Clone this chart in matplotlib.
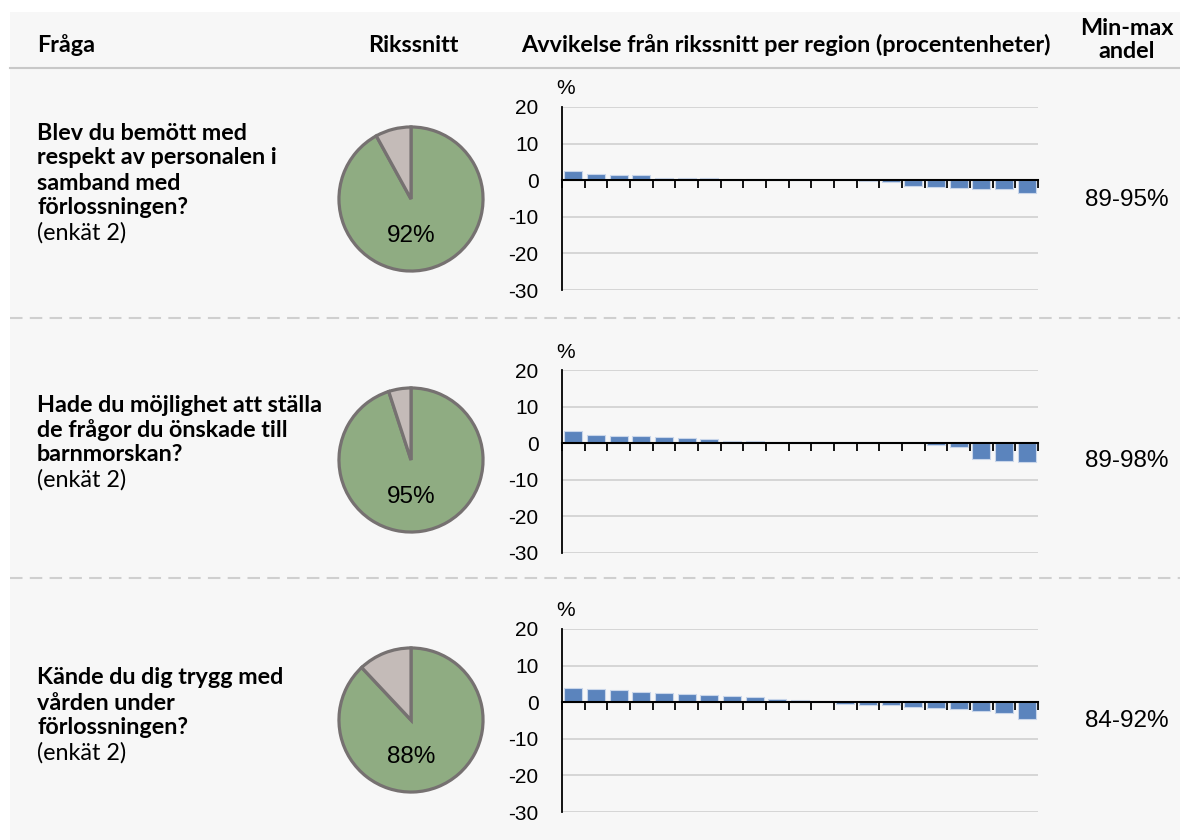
import matplotlib
matplotlib.use("Agg")
import matplotlib.pyplot as plt
from matplotlib.patches import Rectangle
from matplotlib.lines import Line2D

W, H = 1180, 840

questions = [
    "Blev du bemött med\nrespekt av personalen i\nsamband med\nförlossningen?",
    "Hade du möjlighet att ställa\nde frågor du önskade till\nbarnmorskan?",
    "Kände du dig trygg med\nvården under\nförlossningen?",
]
survey = ["(enkät 2)", "(enkät 2)", "(enkät 2)"]
national = [92, 95, 88]
minmax = ["89-95%", "89-98%", "84-92%"]

# deviation from national average per region, sorted
dev_q1 = [2.5, 1.6, 1.5, 1.4, 0.7, 0.7, 0.55, 0.45, 0.45, 0.3, 0.2,
          0.15, 0.0, -0.1, -0.4, -1.6, -1.9, -2.0, -2.3, -2.5, -3.5]
dev_q2 = [3.4, 2.3, 2.1, 2.0, 1.8, 1.3, 1.1, 0.7, 0.6, 0.45, 0.45,
          0.45, 0.45, 0.2, 0.0, 0.0, -0.5, -1.0, -4.4, -4.8, -5.1]
dev_q3 = [3.8, 3.5, 3.4, 2.7, 2.4, 2.3, 1.9, 1.7, 1.5, 0.9, 0.5,
          0.2, -0.4, -0.8, -0.9, -1.2, -1.7, -1.9, -2.4, -3.0, -4.7]
deviations = [dev_q1, dev_q2, dev_q3]
yticks = [20, 10, 0, -10, -20, -30]

headers = ["Fråga", "Rikssnitt",
           "Avvikelse från rikssnitt per region (procentenheter)",
           "Min-max\nandel"]

label_font = "Lato"
num_font = "Liberation Sans"
lsize = 16.8
bar_color = "#5B84BD"
green = "#8FAC82"
grey = "#C4BBB8"
pie_edge = "#767171"


def px(x0, y0, w, h):
    return [x0 / W, 1 - (y0 + h) / H, w / W, h / H]


fig = plt.figure(figsize=(W / 100, H / 100), dpi=100, facecolor="white")
fig.patches.append(Rectangle((10 / W, 0), 1, 1 - 12 / H, transform=fig.transFigure,
                             facecolor="#F7F7F7", edgecolor="none", zorder=-10))

# header
fig.text(37 / W, 1 - 45 / H, headers[0], family=label_font, weight="bold",
         fontsize=lsize, va="center", ha="left")
fig.text(413 / W, 1 - 45 / H, headers[1], family=label_font, weight="bold",
         fontsize=lsize, va="center", ha="center")
fig.text(786 / W, 1 - 45 / H, headers[2], family=label_font, weight="bold",
         fontsize=lsize, va="center", ha="center")
fig.text(1127 / W, 1 - 40 / H, headers[3], family=label_font, weight="bold",
         fontsize=lsize, va="center", ha="center", linespacing=1.1)
fig.lines.append(Line2D([10 / W, 1], [1 - 68 / H, 1 - 68 / H], transform=fig.transFigure,
                        color="#C8C8C8", lw=1.5))
for ysep in [318, 578]:
    fig.lines.append(Line2D([10 / W, 1], [1 - ysep / H, 1 - ysep / H], transform=fig.transFigure,
                            color="#CFCFCF", lw=1.5, ls=(0, (6, 3.5))))

pie_cy = [199, 460, 720]
bar_top = [107, 370, 629]
q_top = [133, 405, 678]

for i in range(3):
    # question text
    lines = questions[i].split("\n")
    for k, line in enumerate(lines):
        fig.text(37 / W, 1 - (q_top[i] + 25 * k) / H, line, family=label_font,
                 weight="bold", fontsize=lsize, va="center", ha="left")
    fig.text(37 / W, 1 - (q_top[i] + 25 * len(lines)) / H, survey[i],
             family=label_font, fontsize=lsize, va="center", ha="left")

    # pie
    r = 76
    axp = fig.add_axes(px(411 - r, pie_cy[i] - r, 2 * r, 2 * r))
    axp.pie([national[i], 100 - national[i]], colors=[green, grey], startangle=90,
            counterclock=False, radius=1,
            wedgeprops=dict(edgecolor=pie_edge, linewidth=2.3))
    axp.set_xlim(-1.055, 1.055)
    axp.set_ylim(-1.055, 1.055)
    axp.set_aspect("equal")
    axp.text(0, -0.52, f"{national[i]}%", ha="center", va="center",
             family=num_font, fontsize=17.5)

    # bars
    ax = fig.add_axes(px(562, bar_top[i], 476, 183))
    ax.set_facecolor("none")
    x = list(range(len(deviations[i])))
    ax.bar(x, deviations[i], width=0.8, color=bar_color, edgecolor="#C9D6EA",
           linewidth=0.8, zorder=3)
    ax.set_xlim(-0.5, len(x) - 0.5)
    ax.set_ylim(-30, 20)
    ax.set_yticks(yticks)
    ax.set_yticklabels([str(t) for t in yticks], family=num_font, fontsize=15)
    ax.tick_params(axis="y", length=0, pad=17)
    ax.yaxis.grid(True, color="#D3D3D3", lw=1.3, zorder=0)
    ax.set_xticks([k - 0.5 for k in range(len(x) + 1)])
    ax.set_xticklabels([])
    ax.tick_params(axis="x", direction="out", length=6, width=1.3, color="black")
    ax.spines["bottom"].set_position(("data", 0))
    ax.spines["bottom"].set_linewidth(1.5)
    ax.spines["bottom"].set_zorder(4)
    ax.spines["left"].set_linewidth(1.3)
    ax.spines["top"].set_visible(False)
    ax.spines["right"].set_visible(False)
    fig.text(566 / W, 1 - (bar_top[i] - 18) / H, "%", family=num_font,
             fontsize=15, ha="center", va="center")

    # min-max
    fig.text(1127 / W, 1 - (pie_cy[i] + 1) / H, minmax[i], family=num_font,
             fontsize=17.5, ha="center", va="center")

plt.savefig("out.png", dpi=100, facecolor="white")
